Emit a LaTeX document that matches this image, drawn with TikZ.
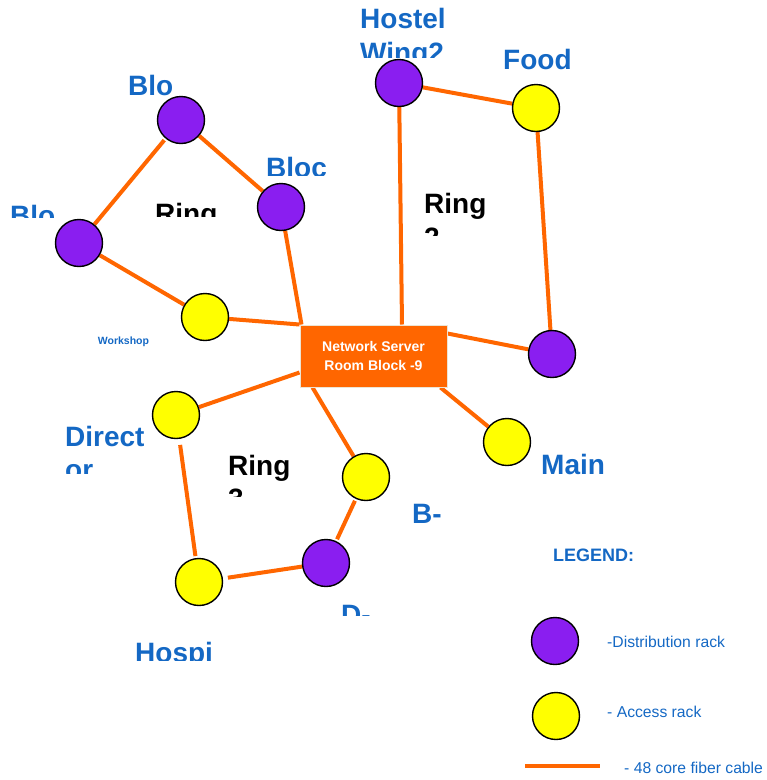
\documentclass[tikz,border=0pt]{standalone}
\usepackage{fontspec}
\setmainfont{Liberation Sans}
\pgfdeclarelayer{bg}
\pgfsetlayers{bg,main}
\definecolor{lblue}{RGB}{20,104,196}
\definecolor{rpurple}{RGB}{138,30,240}
\definecolor{ryellow}{RGB}{255,255,0}
\definecolor{cable}{RGB}{255,102,0}
\definecolor{boxedge}{RGB}{236,228,212}
\tikzset{
  lbl/.style={text=lblue, font=\fontsize{28}{34}\selectfont\bfseries, inner sep=0pt, anchor=base west},
  ringlbl/.style={text=black, font=\fontsize{28}{34}\selectfont\bfseries, inner sep=0pt, anchor=base west},
  rack/.style={circle, draw=black, line width=1.4pt, minimum size=47pt, inner sep=0pt},
  dist/.style={rack, fill=rpurple},
  acc/.style={rack, fill=ryellow},
  fiber/.style={draw=cable, line width=4pt},
  legtxt/.style={text=lblue, font=\fontsize{15.7}{18}\selectfont, inner sep=0pt, anchor=west},
}
\begin{document}
\begin{tikzpicture}[x=1pt,y=-1pt]
\useasboundingbox (0,0) rectangle (767,780);

% server box
\node[fill=cable, draw=boxedge, line width=1pt, minimum width=147pt, minimum height=62pt, inner sep=0pt,
      text=white, font=\fontsize{14}{19}\selectfont\bfseries, align=center] (box) at (373.5,356)
      {Network Server\\Room Block -9};

% racks
\node[dist] (p1) at (181,120) {};
\node[dist] (p2) at (281,207) {};
\node[dist] (p3) at (79,243) {};
\node[acc]  (y1) at (205,317) {};
\node[dist] (hw) at (399,83) {};
\node[acc]  (fd) at (536,108) {};
\node[dist] (p5) at (552,354) {};
\node[acc]  (mn) at (507,442) {};
\node[acc]  (dr) at (176,415) {};
\node[acc]  (bb) at (366,477) {};
\node[dist] (dd) at (326,563) {};
\node[acc]  (hs) at (199,582) {};

% legend symbols
\node[dist] (lp) at (555,641) {};
\node[acc]  (ly) at (556,716) {};
\coordinate (la) at (525,766);
\coordinate (lb) at (600,766);

% cables
\begin{pgfonlayer}{bg}
\draw[fiber] (p1) -- (p2);
\draw[fiber, shorten <=2pt] (p1) -- (p3);
\draw[fiber] (p3) -- (y1);
\draw[fiber] (y1) -- (box.north west);
\draw[fiber] (p2) -- ([xshift=2pt]box.north west);
\draw[fiber] (hw) -- ([xshift=28.5pt]box.north);
\draw[fiber] (hw) -- (fd);
\draw[fiber] (fd) -- (p5);
\draw[fiber] ([yshift=-9pt]box.north east) -- (p5);
\draw[fiber] ([xshift=-7pt]box.south east) -- (mn);
\draw[fiber] ([yshift=15pt]box.south west) -- (dr);
\draw[fiber] ([xshift=13pt]box.south west) -- (bb);
\draw[fiber, shorten <=6pt, shorten >=2pt] (dr) -- (hs);
\draw[fiber, shorten <=5pt] (hs) -- (dd);
\draw[fiber, shorten <=2pt, shorten >=2pt] (dd) -- (bb);
\draw[fiber] (la) -- (lb);
\end{pgfonlayer}

% labels (clipped like the original text boxes)
\node[lbl] (tblo) at (128,95) {Blo};
\begin{scope}\clip (200,0) rectangle (400,175);
\node[lbl] (tbloc) at (266,177) {Bloc};
\end{scope}
\begin{scope}\clip (0,0) rectangle (120,217);
\node[lbl] (tblol) at (10,225) {Blo};
\end{scope}
\begin{scope}\clip (120,0) rectangle (240,216);
\node[ringlbl] (tr1) at (155,223) {Ring};
\end{scope}
\node[lbl] (thos) at (360,28) {Hostel};
\begin{scope}\clip (340,0) rectangle (480,57);
\node[lbl] (twing) at (360,62) {Wing2};
\end{scope}
\node[lbl] (tfood) at (503,69) {Food};
\node[ringlbl] (tr2) at (424,213) {Ring};
\begin{scope}\clip (400,0) rectangle (500,235);
\node[ringlbl] (tr2b) at (424,247) {2};
\end{scope}
\node[lbl] (tdir) at (65,446) {Direct};
\begin{scope}\clip (40,0) rectangle (160,473);
\node[lbl] (tdirb) at (65,479) {or};
\end{scope}
\node[ringlbl] (tr3) at (228,475) {Ring};
\begin{scope}\clip (200,0) rectangle (300,496);
\node[ringlbl] (tr3b) at (228,508) {3};
\end{scope}
\node[lbl] (tb) at (412,523) {B-};
\begin{scope}\clip (320,0) rectangle (400,615);
\node[lbl] (td) at (341,624) {D-};
\end{scope}
\begin{scope}\clip (100,0) rectangle (260,660);
\node[lbl] (thosp) at (135,662) {Hospi};
\end{scope}
\node[lbl] (tmain) at (541,474) {Main};
\node[text=lblue, font=\fontsize{10.5}{12}\selectfont\bfseries, inner sep=0pt] (twork) at (123.5,342) {Workshop};

% legend
\node[text=lblue, font=\fontsize{18}{20}\selectfont\bfseries, inner sep=0pt, anchor=base west] (tleg) at (553,561) {LEGEND:};
\node[legtxt] (tl1) at (607,642) {-Distribution rack};
\node[legtxt] (tl2) at (607,712) {- Access rack};
\node[legtxt] (tl3) at (624,768) {- 48 core fiber cable};
\end{tikzpicture}
\end{document}
